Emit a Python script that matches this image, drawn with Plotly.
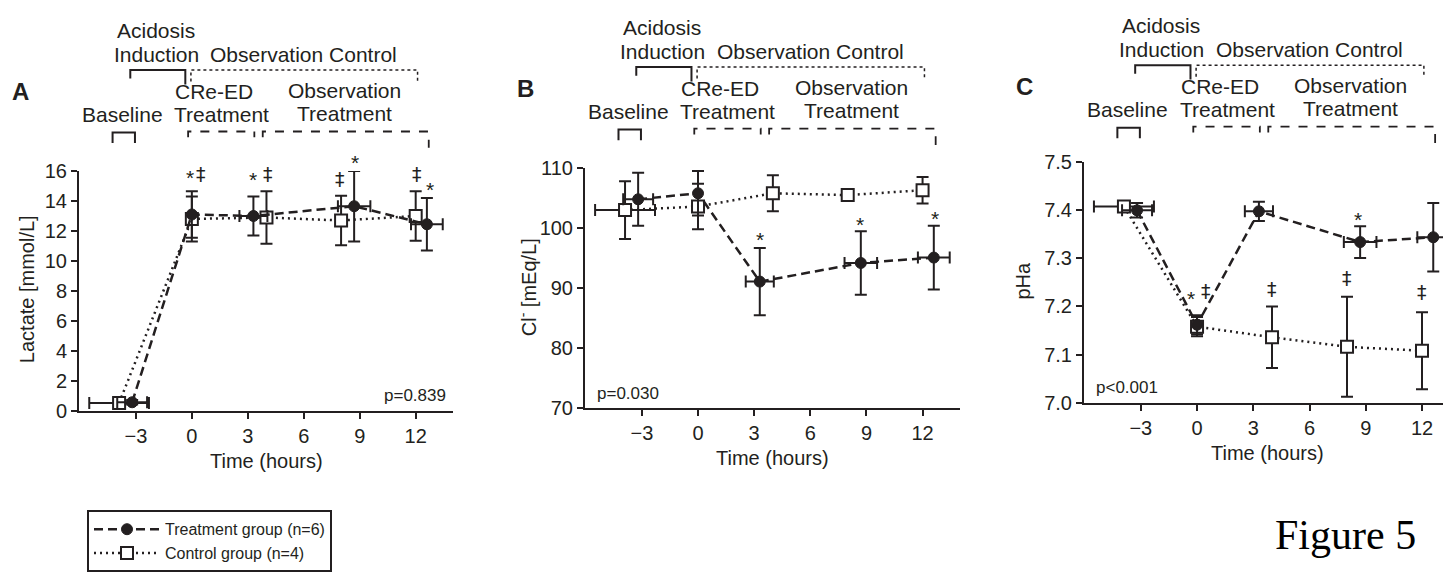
import plotly.graph_objects as go

# The page body adds an 8px margin on every side; the figure is sized so that the
# page does not overflow the 1451x587 window, and reference pixel positions are
# shifted by OFF.
OFF = 8
W, H = 1451 - 2 * OFF, 587 - 2 * OFF
FONT = "Arial, 'Liberation Sans', sans-serif"
INK = "#231f20"

# ---------------- data ----------------
time_trt = [-3.2, 0.0, 3.3, 8.7, 12.6]
time_ctl = [-3.9, 0.0, 4.0, 8.0, 12.0]
time_err_trt = [0.8, 0.0, 0.75, 0.87, 0.85]
time_err_ctl = [1.6, 0.0, 0.0, 0.0, 0.0]

lactate_trt = [0.6, 13.1, 13.0, 13.65, 12.45]
lactate_trt_sd = [0.15, 1.55, 1.3, 2.35, 1.75]
lactate_ctl = [0.55, 12.8, 12.9, 12.7, 13.0]
lactate_ctl_sd = [0.1, 1.5, 1.75, 1.65, 1.65]

chloride_trt = [104.8, 105.8, 91.1, 94.2, 95.1]
chloride_trt_sd = [4.4, 3.7, 5.6, 5.3, 5.3]
chloride_ctl = [103.0, 103.6, 105.8, 105.5, 106.3]
chloride_ctl_sd = [4.8, 3.8, 3.0, 0.5, 2.2]

pha_trt = [7.400, 7.162, 7.398, 7.334, 7.344]
pha_trt_sd = [0.015, 0.02, 0.02, 0.033, 0.071]
pha_ctl = [7.408, 7.158, 7.136, 7.116, 7.108]
pha_ctl_sd = [0.01, 0.02, 0.064, 0.104, 0.08]

x_ticks = [-3, 0, 3, 6, 9, 12]
lactate_ticks = [0, 2, 4, 6, 8, 10, 12, 14, 16]
chloride_ticks = [70, 80, 90, 100, 110]
pha_ticks = [7.0, 7.1, 7.2, 7.3, 7.4, 7.5]

sig_A_x = [-0.1, 0.5, 3.27, 4.07, 7.93, 8.73, 12.05, 12.75]
sig_A_y = [15.9, 15.7, 15.75, 15.75, 15.4, 16.9, 15.75, 15.1]
sig_A_t = ["*", "‡", "*", "‡", "‡", "*", "‡", "*"]
sig_B_x = [3.3, 8.66, 12.67]
sig_B_y = [99.0, 101.5, 102.5]
sig_B_t = ["*", "*", "*"]
sig_C_x = [-0.3, 0.5, 8.6, 4.0, 8.0, 12.0]
sig_C_y = [7.226, 7.23, 7.392, 7.234, 7.258, 7.228]
sig_C_t = ["*", "‡", "*", "‡", "‡", "‡"]

p_values = ["p=0.839", "p=0.030", "p<0.001"]
y_titles = ["Lactate [mmol/L]", "Cl<sup>-</sup> [mEq/L]", "pHa"]
panel_letters = ["A", "B", "C"]

# ---------------- layout geometry (reference pixels) ----------------
panels = [
    dict(x0=79, x1=453, xr=[-6.05, 14.0], yb=416, yt=166, yr=[0, 16], dy=0,
         ytitle_x=27, ytitle_y=289, p_x=448, p_y=400, p_anchor="right"),
    dict(x0=585, x1=960, xr=[-6.04, 14.0], yb=413, yt=163, yr=[70, 110], dy=-3,
         ytitle_x=527, ytitle_y=287, p_x=595, p_y=397, p_anchor="left"),
    dict(x0=1084, x1=1443, xr=[-6.03, 13.12], yb=407, yt=157, yr=[7.0, 7.5], dy=-5,
         ytitle_x=1023, ytitle_y=280, p_x=1094, p_y=391, p_anchor="left"),
]


def fx(px):
    return (px - OFF) / W


def fy(py):
    return 1 - (py - OFF) / H


def tx(p, t):
    """hours -> paper x for panel p"""
    return fx(p["x0"] + (t - p["xr"][0]) / (p["xr"][1] - p["xr"][0]) * (p["x1"] - p["x0"]))


def vy(p, v):
    """value -> paper y for panel p"""
    return fy(p["yb"] - (v - p["yr"][0]) / (p["yr"][1] - p["yr"][0]) * (p["yb"] - p["yt"]))


fig = go.Figure()

series = [
    (lactate_trt, lactate_trt_sd, lactate_ctl, lactate_ctl_sd),
    (chloride_trt, chloride_trt_sd, chloride_ctl, chloride_ctl_sd),
    (pha_trt, pha_trt_sd, pha_ctl, pha_ctl_sd),
]

for i, (trt, trt_sd, ctl, ctl_sd) in enumerate(series):
    ax = "" if i == 0 else str(i + 1)
    common = dict(xaxis="x" + ax, yaxis="y" + ax, cliponaxis=False, mode="lines+markers")
    fig.add_trace(go.Scatter(
        x=time_ctl, y=ctl, name="Control group (n=4)", legendgroup="ctl",
        showlegend=(i == 0), legendrank=2,
        line=dict(color=INK, width=2.5, dash="2px,4px"),
        marker=dict(symbol="square", size=12, color="white", line=dict(color=INK, width=2)),
        error_y=dict(type="data", array=ctl_sd, color=INK, thickness=2, width=6),
        error_x=dict(type="data", array=time_err_ctl, color=INK, thickness=2, width=6),
        **common))
    fig.add_trace(go.Scatter(
        x=time_trt, y=trt, name="Treatment group (n=6)", legendgroup="trt",
        showlegend=(i == 0), legendrank=1,
        line=dict(color=INK, width=2.5, dash="9px,5px"),
        marker=dict(symbol="circle", size=11, color=INK, line=dict(color=INK, width=1)),
        error_y=dict(type="data", array=trt_sd, color=INK, thickness=2, width=6),
        error_x=dict(type="data", array=time_err_trt, color=INK, thickness=2, width=6),
        **common))

layout = dict(
    width=W, height=H, margin=dict(l=0, r=0, t=0, b=0),
    paper_bgcolor="white", plot_bgcolor="white",
    font=dict(family=FONT, color=INK, size=19),
    showlegend=True,
    legend=dict(x=fx(87), y=fy(519), xanchor="left", yanchor="top",
                bordercolor=INK, borderwidth=2, bgcolor="white",
                font=dict(size=16, family=FONT, color=INK),
                itemwidth=66, tracegroupgap=0),
)
ytick_sets = [lactate_ticks, chloride_ticks, pha_ticks]
for i, p in enumerate(panels):
    ax = "" if i == 0 else str(i + 1)
    layout["xaxis" + ax] = dict(
        domain=[fx(p["x0"]), fx(p["x1"])], range=p["xr"], anchor="y" + ax,
        showline=True, linewidth=2, linecolor=INK, showgrid=False, zeroline=False,
        ticks="outside", ticklen=6, tickwidth=2, tickcolor=INK,
        tickvals=x_ticks, tickfont=dict(size=20), fixedrange=True)
    layout["yaxis" + ax] = dict(
        domain=[fy(p["yb"]), fy(p["yt"])], range=p["yr"], anchor="x" + ax,
        showline=True, linewidth=2, linecolor=INK, showgrid=False, zeroline=False,
        ticks="outside", ticklen=6, tickwidth=2, tickcolor=INK,
        tickvals=ytick_sets[i], tickformat=".1f" if i == 2 else "d",
        tickfont=dict(size=20), fixedrange=True)
fig.update_layout(**layout)

ann = []
shapes = []


def text(x, y, s, size=21, family=FONT, **kw):
    d = dict(x=x, y=y, xref="paper", yref="paper", text=s, showarrow=False,
             font=dict(size=size, family=family, color=INK), xanchor="center", yanchor="middle")
    d.update(kw)
    ann.append(d)


def bracket(p, t0, t1, top, leg0, leg1, dash, width):
    dy = p["dy"]
    xa, xb = tx(p, t0), tx(p, t1)
    path = "M {a},{l0} L {a},{tp} L {b},{tp} L {b},{l1}".format(
        a=xa, b=xb, tp=fy(top + dy), l0=fy(leg0 + dy), l1=fy(leg1 + dy))
    shapes.append(dict(type="path", path=path, xref="paper", yref="paper",
                       line=dict(color=INK, width=width, dash=dash)))


for i, p in enumerate(panels):
    dy = p["dy"]
    # panel letter
    text(tx(p, -9.2), fy(83 + dy), "<b>%s</b>" % panel_letters[i], size=24)
    # phase labels
    text(tx(p, -1.9), fy(20 + dy), "Acidosis")
    text(tx(p, -1.9), fy(45 + dy), "Induction")
    text(tx(p, 6.0), fy(45 + dy), "Observation Control")
    text(tx(p, 1.2), fy(83 + dy), "CRe-ED")
    text(tx(p, 1.6), fy(107 + dy), "Treatment")
    text(tx(p, 8.2), fy(82 + dy), "Observation")
    text(tx(p, 8.2), fy(106 + dy), "Treatment")
    text(tx(p, -3.7), fy(107 + dy), "Baseline")
    # brackets
    bracket(p, -3.3, -0.35, 61, 70, 76, "solid", 2)
    bracket(p, -0.05, 12.1, 61, 73, 73, "dot", 1.5)
    bracket(p, -4.25, -3.05, 126, 137, 137, "solid", 2)
    bracket(p, -0.2, 3.35, 125, 131, 131, "dash", 1.8)
    bracket(p, 3.8, 12.7, 125, 131, 142, "dash", 1.8)
    # axis titles
    text(fx(p["ytitle_x"]), fy(p["ytitle_y"]), y_titles[i], size=20, textangle=-90)
    text(fx((p["x0"] + p["x1"]) / 2 if i < 2 else 1267), fy(p["yb"] + 52), "Time (hours)", size=20)
    # p-value
    text(fx(p["p_x"]), fy(p["p_y"]), p_values[i], size=17, xanchor=p["p_anchor"])

for i, (sx, sy, st) in enumerate([(sig_A_x, sig_A_y, sig_A_t),
                                  (sig_B_x, sig_B_y, sig_B_t),
                                  (sig_C_x, sig_C_y, sig_C_t)]):
    p = panels[i]
    for x, y, s in zip(sx, sy, st):
        if s == "*":
            text(tx(p, x), vy(p, y), s, size=21, yshift=-5)
        else:
            text(tx(p, x), vy(p, y), s, size=19, family="'DejaVu Sans', sans-serif", yshift=1)

ann.append(dict(x=fx(1345), y=fy(545), xref="paper", yref="paper", text="Figure 5",
                showarrow=False, xanchor="center", yanchor="middle",
                font=dict(size=42, family="'Liberation Serif', 'DejaVu Serif', serif", color="black")))

fig.update_layout(annotations=ann, shapes=shapes)
fig.write_html("out.html")
